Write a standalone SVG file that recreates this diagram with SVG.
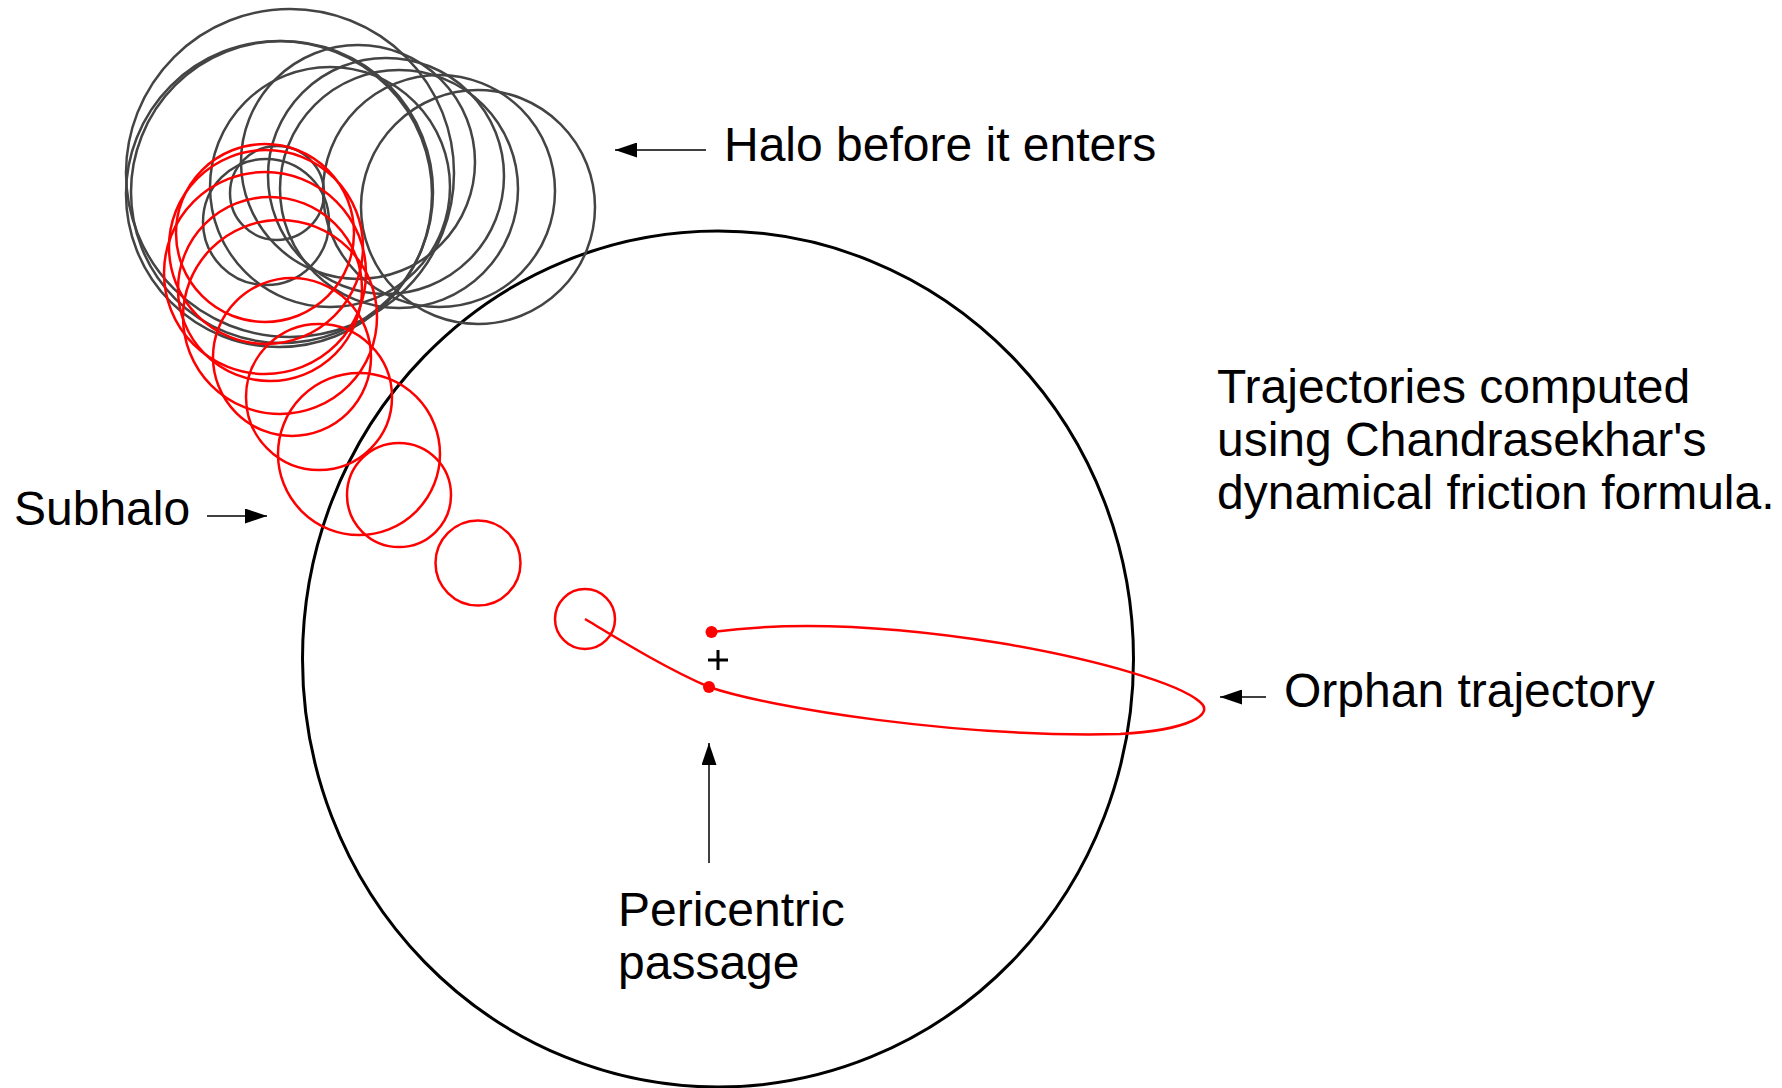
<svg xmlns="http://www.w3.org/2000/svg" width="1782" height="1088" viewBox="0 0 1782 1088">
<style>
.g{fill:none;stroke:#444;stroke-width:2.5}
.r{fill:none;stroke:#f00;stroke-width:2.5}
.big{fill:none;stroke:#000;stroke-width:3}
.ar{fill:none;stroke:#000;stroke-width:1.5}
.t{font-family:"Liberation Sans",Arial,sans-serif;font-size:48px;fill:#000}
</style>
<defs>
<marker id="ah" markerUnits="userSpaceOnUse" markerWidth="22" markerHeight="15" refX="22" refY="7.5" orient="auto">
<path d="M0,0 L22,7.5 L0,15 z" fill="#000"/>
</marker>
</defs>
<rect width="1782" height="1088" fill="#fff"/>
<g id="host-halo">
<ellipse class="big" cx="718" cy="659" rx="415.5" ry="428"/>
<path d="M708,660 H728 M718,650 V670" stroke="#000" stroke-width="3" fill="none"/>
</g>
<g id="halo-before">
<circle class="g" cx="478" cy="207" r="117"/>
<circle class="g" cx="439" cy="191" r="116"/>
<circle class="g" cx="399" cy="189" r="119"/>
<circle class="g" cx="386" cy="176" r="118"/>
<circle class="g" cx="358" cy="162" r="117"/>
<circle class="g" cx="330" cy="187" r="120"/>
<circle class="g" cx="290" cy="173" r="164"/>
<circle class="g" cx="279" cy="194" r="153"/>
<circle class="g" cx="282" cy="192" r="151"/>
<circle class="g" cx="266" cy="222" r="63"/>
<circle class="g" cx="277" cy="193" r="47"/>
</g>
<g id="subhalo">
<circle class="r" cx="265" cy="233" r="89"/>
<circle class="r" cx="266" cy="247" r="97"/>
<circle class="r" cx="265" cy="273" r="101"/>
<circle class="r" cx="270" cy="289" r="92"/>
<circle class="r" cx="280" cy="317" r="97"/>
<circle class="r" cx="292" cy="357" r="79"/>
<circle class="r" cx="319" cy="397" r="73"/>
<circle class="r" cx="359" cy="454" r="81"/>
<circle class="r" cx="399" cy="495" r="52"/>
<circle class="r" cx="478" cy="563" r="42.5"/>
<circle class="r" cx="585" cy="619" r="30"/>
</g>
<g id="orphan-trajectory">
<path class="r" d="M585,619 C620,640 665,668 709,687 C770,708 960,738 1120,734 C1190,730 1215,714 1200,702 C1180,684 1100,660 1000,643 C900,627 800,620 712,632"/>
<circle cx="711.5" cy="632" r="6" fill="#f00"/>
<circle cx="709" cy="687" r="6" fill="#f00"/>
</g>
<g id="connectors">
<line class="ar" x1="706" y1="150" x2="615" y2="150" marker-end="url(#ah)"/>
<line class="ar" x1="207" y1="516" x2="267" y2="516" marker-end="url(#ah)"/>
<line class="ar" x1="1266" y1="697" x2="1220" y2="697" marker-end="url(#ah)"/>
<line class="ar" x1="709" y1="863" x2="709" y2="743" marker-end="url(#ah)"/>
</g>
<g id="labels">
<text class="t" x="724" y="161">Halo before it enters</text>
<text class="t" x="14" y="525">Subhalo</text>
<text class="t" x="1217" y="403">Trajectories computed</text>
<text class="t" x="1217" y="456">using Chandrasekhar's</text>
<text class="t" x="1217" y="509">dynamical friction formula.</text>
<text class="t" x="1284" y="707">Orphan trajectory</text>
<text class="t" x="618" y="926">Pericentric</text>
<text class="t" x="618" y="979">passage</text>
</g>
</svg>
